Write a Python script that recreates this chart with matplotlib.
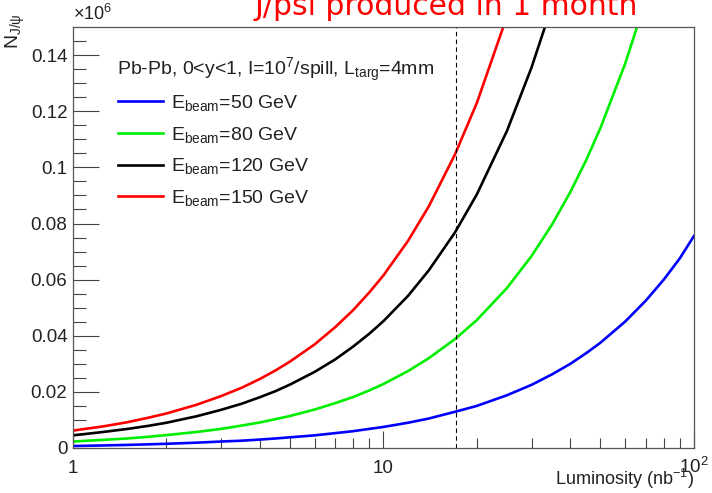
import numpy as np
import matplotlib
matplotlib.use("Agg")
import matplotlib.pyplot as plt
from matplotlib.ticker import FixedLocator, NullFormatter

plt.rcParams['font.family'] = ['Liberation Sans', 'DejaVu Sans']
plt.rcParams['mathtext.fontset'] = 'custom'
plt.rcParams['mathtext.rm'] = 'Liberation Sans'
plt.rcParams['mathtext.it'] = 'Liberation Sans'

# luminosity points (nb^-1) and J/psi yields (x 10^6)
lumi = [1, 1.25, 1.5, 1.75, 2, 2.5, 3, 3.5, 4, 4.5, 5, 6, 7, 8, 9, 10, 12, 14, 17, 20, 25, 30,
        35, 40, 45, 50, 60, 70, 80, 90, 100]
n_50 = [0.0007, 0.0009, 0.0011, 0.0013, 0.0015, 0.0019, 0.0023, 0.0026, 0.0030, 0.0034, 0.0038,
        0.0045, 0.0053, 0.0060, 0.0068, 0.0075, 0.0090, 0.0105, 0.0129, 0.0150, 0.0188, 0.0225,
        0.0263, 0.0300, 0.0338, 0.0375, 0.0450, 0.0525, 0.0600, 0.0675, 0.0755]
n_80 = [0.0023, 0.0029, 0.0034, 0.0040, 0.0046, 0.0057, 0.0068, 0.0080, 0.0091, 0.0103, 0.0114,
        0.0137, 0.0160, 0.0182, 0.0205, 0.0228, 0.0274, 0.0320, 0.0388, 0.0456, 0.0570, 0.0684,
        0.0798, 0.0912, 0.1026, 0.1140, 0.1368, 0.1596]
n_120 = [0.0045, 0.0057, 0.0068, 0.0079, 0.0090, 0.0113, 0.0136, 0.0158, 0.0181, 0.0203, 0.0226,
         0.0271, 0.0316, 0.0362, 0.0407, 0.0452, 0.0542, 0.0633, 0.0768, 0.0904, 0.1130, 0.1356,
         0.1580]
n_150 = [0.0062, 0.0077, 0.0092, 0.0108, 0.0123, 0.0154, 0.0185, 0.0215, 0.0246, 0.0277, 0.0308,
         0.0369, 0.0431, 0.0492, 0.0554, 0.0615, 0.0738, 0.0861, 0.1046, 0.1230, 0.1538]
energies = ["50", "80", "120", "150"]
kolory = ["#0000ff", "#00ee00", "#000000", "#ff0000"]
y_ticks = [0, 0.02, 0.04, 0.06, 0.08, 0.1, 0.12, 0.14]
y_labels = ["0", "0.02", "0.04", "0.06", "0.08", "0.1", "0.12", "0.14"]
l_cut = 17.1

fig = plt.figure(figsize=(7.12, 4.93), dpi=100)
ax = fig.add_axes([0.1025, 0.0913, 0.872, 0.8537])

for e, y, c in zip(energies, [n_50, n_80, n_120, n_150], kolory):
    ax.plot(lumi[:len(y)], y, color=c, lw=1.9, label=r"E$_{\mathrm{beam}}$=" + e + " GeV")

ax.axvline(l_cut, color="black", lw=0.8, ls=(0, (4, 3)))

ax.set_xscale("log")
ax.set_xlim(1, 100)
ax.set_ylim(0, 0.15)

ax.xaxis.set_major_locator(FixedLocator([1, 10, 100]))
ax.xaxis.set_minor_locator(FixedLocator([2, 3, 4, 5, 6, 7, 8, 9, 20, 30, 40, 50, 60, 70, 80, 90]))
ax.xaxis.set_minor_formatter(NullFormatter())
ax.set_xticklabels(["1", "10", ""])
ax.yaxis.set_major_locator(FixedLocator(y_ticks))
ax.yaxis.set_minor_locator(FixedLocator(np.arange(0.005, 0.15, 0.005)))
ax.yaxis.set_minor_formatter(NullFormatter())
ax.set_yticklabels(y_labels)

ax.tick_params(axis="both", which="both", direction="in", colors="#444444",
               labelcolor="#222222", labelsize=13.5, width=0.8)
ax.tick_params(axis="y", which="major", length=19, pad=4)
ax.tick_params(axis="y", which="minor", length=9)
ax.tick_params(axis="x", which="major", length=12, pad=9)
ax.tick_params(axis="x", which="minor", length=7)
for s in ax.spines.values():
    s.set_color("#555555")
    s.set_linewidth(0.9)

# opisy osi
ax.text(1.0, -0.022, r"10$^{2}$", transform=ax.transAxes, ha="center", va="top",
        fontsize=13.5, color="#222222")
ax.text(1.0, -0.088, r"Luminosity (nb$^{-1}$)", transform=ax.transAxes, ha="right",
        va="baseline", fontsize=13, color="#222222")
ax.text(0.0, 1.008, r"$\times$10$^{6}$", transform=ax.transAxes, ha="left", va="bottom",
        fontsize=13, color="#222222")
fig.text(0.022, 0.972, r"N$_{J/\psi}$", rotation=90, ha="center", va="top",
         fontsize=14, color="#222222")

ax.text(0.071, 0.898, r"Pb-Pb, 0<y<1, I=10$^{7}$/spill, L$_{\mathrm{targ}}$=4mm",
        transform=ax.transAxes, fontsize=14, color="#222222", va="center")
leg = ax.legend(loc="upper left", bbox_to_anchor=(0.06, 0.862), frameon=False, fontsize=14,
                handlelength=2.3, handletextpad=0.45, labelspacing=0.6, borderaxespad=0)
for t in leg.get_texts():
    t.set_color("#222222")

fig.text(0.626, 0.97, "J/psi produced in 1 month", color="red", fontsize=21.5,
         ha="center", va="baseline", family="DejaVu Sans")

fig.savefig("out.png", dpi=100)
